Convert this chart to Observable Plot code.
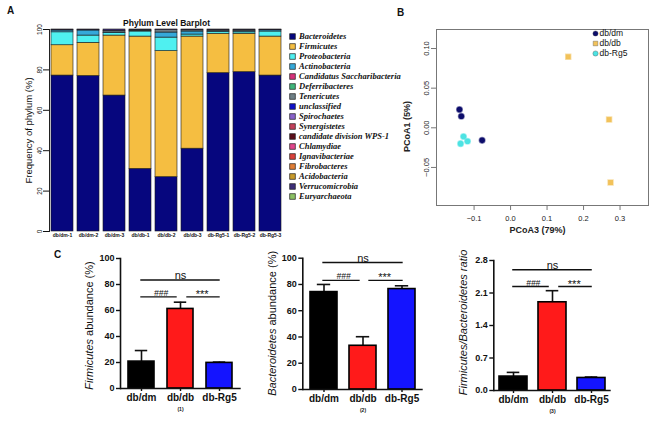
<!DOCTYPE html>
<html><head><meta charset="utf-8">
<script src="https://cdn.jsdelivr.net/npm/d3@7"></script>
<script src="https://cdn.jsdelivr.net/npm/@observablehq/plot@0.6"></script>
<style>
body{margin:0;background:#fff;}
#fig{position:relative;width:659px;height:421px;overflow:hidden;font-family:"Liberation Sans",Arial,sans-serif;background:#fff;}
.letter{position:absolute;font-weight:bold;font-size:10px;line-height:10px;color:#111;}
</style></head><body><div id="fig">
<div class="letter" style="left:7px;top:6px">A</div>
<div class="letter" style="left:397px;top:8px">B</div>
<div class="letter" style="left:54px;top:250px">C</div>
</div>
<script>
// ---------- Panel A data ----------
const samples = ["db/dm-1","db/dm-2","db/dm-3","db/db-1","db/db-2","db/db-3","db-Rg5-1","db-Rg5-2","db-Rg5-3"];
const phyla = ["Bacteroidetes","Firmicutes","Proteobacteria","Actinobacteria","Candidatus Saccharibacteria","Deferribacteres","Tenericutes","unclassified","Spirochaetes","Synergistetes","candidate division WPS-1","Chlamydiae","Ignavibacteriae","Fibrobacteres","Acidobacteria","Verrucomicrobia","Euryarchaeota"];
const phylumColors = ["#06067e","#f5be41","#4ff0f0","#35a9d9","#d6327a","#3fb57a","#6f7f86","#1010c8","#8a62c9","#c2415a","#5c0f1a","#e0468a","#d9413a","#e07d35","#c89a2a","#3e2f78","#8cc063"];
const bacteroidetes   = [77.2, 77.0, 67.3, 31.0, 26.9, 41.0, 78.4, 78.9, 77.2];
const firmicutes      = [15.0, 16.4, 29.7, 65.5, 62.4, 55.5, 19.5, 19.0, 19.3];
const proteobacteria  = [6.4, 3.6, 1.2, 2.5, 6.7, 1.0, 0.8, 0.7, 2.5];
const actinobacteria  = [0.9, 2.5, 0.3, 0.3, 2.5, 1.5, 0.4, 0.5, 0.6];
const tenericutes     = [0.3, 0.3, 0.8, 0.3, 1.2, 0.6, 0.5, 0.5, 0.2];
const verrucomicrobia = [0.2, 0.2, 0.7, 0.4, 0.3, 0.4, 0.4, 0.4, 0.2];
const yTicksA = [0, 20, 40, 60, 80, 100];

// ---------- Panel B data ----------
const groups = ["db/dm","db/db","db-Rg5"];
const groupColors = ["#0d0d6b","#f2c25a","#4de3e3"];
const groupSymbols = ["circle","square","circle"];
const pcGroup = ["db/dm","db/dm","db/dm","db/db","db/db","db/db","db-Rg5","db-Rg5","db-Rg5"];
const pc3 = [-0.140, -0.135, -0.078, 0.158, 0.270, 0.274, -0.129, -0.118, -0.137];
const pc1 = [0.023, 0.0146, -0.0158, 0.0896, 0.0104, -0.069, -0.011, -0.017, -0.020];
const xTicksB = [-0.1, 0, 0.1, 0.2, 0.3];
const yTicksB = [-0.05, 0, 0.05, 0.1];

// ---------- Panel C data ----------
const groupsC = ["db/dm","db/db","db-Rg5"];
const barColors = ["#000000","#ff1a1a","#1414ff"];
const firmMean = [20.7, 61.2, 19.7];
const firmErr  = [8.5, 5.2, 0.6];
const bactMean = [74.2, 33.3, 76.5];
const bactErr  = [5.8, 6.9, 2.5];
const ratioMean = [0.30, 1.90, 0.27];
const ratioErr  = [0.09, 0.25, 0.02];
const sigLabels = ["ns","###","***"];
const sigFrom = ["db/dm","db/dm","db/db"];
const sigTo   = ["db-Rg5","db/db","db-Rg5"];
const firmSigY  = [83.5, 70.5, 70.5];
const bactSigY  = [96.7, 83.1, 83.1];
const ratioSigY = [2.60, 2.24, 2.24];
const ticksPct = [0, 20, 40, 60, 80, 100];
const ticksRatio = [0, 0.7, 1.4, 2.1, 2.8];

const FONT = "Liberation Sans, Arial, sans-serif";
const fig = document.getElementById("fig");
function place(node, left, top) {
  node.style.position = "absolute";
  node.style.left = left + "px";
  node.style.top = top + "px";
  fig.appendChild(node);
}
function italicize(svg, full, part) {
  d3.select(svg).selectAll("text").filter(function(){ return this.textContent === full; }).each(function(){
    const t = d3.select(this); t.text(null);
    t.append("tspan").attr("font-style","italic").text(part);
    if (full.length > part.length) t.append("tspan").text(full.slice(part.length));
  });
}

// ---------- Panel A ----------
const stackSeries = [["Bacteroidetes", bacteroidetes], ["Firmicutes", firmicutes], ["Proteobacteria", proteobacteria], ["Actinobacteria", actinobacteria], ["Tenericutes", tenericutes], ["Verrucomicrobia", verrucomicrobia]];
const stackData = stackSeries.flatMap(([p, vals]) => vals.map((v, i) => ({sample: samples[i], phylum: p, value: v})));

const plotA = Plot.plot({
  width: 290, height: 245, marginLeft: 49, marginRight: 7, marginTop: 29, marginBottom: 14,
  style: {fontFamily: FONT, background: "transparent", overflow: "visible", color: "#111"},
  x: {domain: samples, paddingInner: 0.154, paddingOuter: 0.077, axis: null},
  y: {domain: [0, 100], axis: null},
  color: {domain: phyla, range: phylumColors},
  marks: [
    Plot.barY(stackData, {x: "sample", y: "value", fill: "phylum", stroke: "#1a1a1a", strokeWidth: 0.6}),
    Plot.frame({anchor: "left", stroke: "#222"}),
    Plot.axisY({ticks: yTicksA, tickSize: 6, tickPadding: 2, tickRotate: -90, fontSize: 6.5, label: null}),
    Plot.axisX({tickSize: 0, tickPadding: 1.5, fontSize: 5, fontWeight: "bold", label: null}),
    Plot.text(["Frequency of phylum (%)"], {frameAnchor: "left", textAnchor: "middle", rotate: -90, dx: -21, fontSize: 9.5}),
    Plot.text(["Phylum Level Barplot"], {frameAnchor: "top", dy: -10, fontSize: 8.5, fontWeight: "bold"})
  ]
});
place(plotA, 0, 0);

const legendA = Plot.plot({
  width: 122, height: 180, marginLeft: 6, marginRight: 0, marginTop: 0, marginBottom: 0,
  style: {background: "transparent", overflow: "visible", color: "#111"},
  y: {type: "point", domain: phyla, range: [7.3, 172], padding: 0, axis: null},
  color: {domain: phyla, range: phylumColors},
  marks: [
    Plot.dot(phyla, {y: d => d, frameAnchor: "left", symbol: "square", r: 3.2, fill: d => d, stroke: "#222", strokeWidth: 0.7}),
    Plot.text(phyla, {y: d => d, text: d => d, frameAnchor: "left", dx: 6.5, textAnchor: "start", fontFamily: "Liberation Serif, Times New Roman, serif", fontStyle: "italic", fontWeight: "bold", fontSize: 8.5})
  ]
});
place(legendA, 286, 26);

// ---------- Panel B ----------
const pcoa = pc3.map((v, i) => ({pc3: v, pc1: pc1[i], group: pcGroup[i]}));
const plotB = Plot.plot({
  width: 279, height: 245, marginLeft: 56, marginRight: 11, marginTop: 29, marginBottom: 40,
  style: {fontFamily: FONT, background: "transparent", overflow: "visible", color: "#222"},
  x: {domain: [-0.203, 0.378], axis: null},
  y: {domain: [-0.098, 0.124], axis: null},
  color: {domain: groups, range: groupColors},
  symbol: {domain: groups, range: groupSymbols},
  marks: [
    Plot.frame({stroke: "#777", strokeWidth: 1}),
    Plot.axisX({ticks: xTicksB, tickFormat: d3.format(".1f"), tickSize: 5, tickPadding: 5, fontSize: 7.5, stroke: "#777", label: null}),
    Plot.axisY({ticks: yTicksB, tickFormat: d3.format(".2f"), tickSize: 5, tickPadding: 3, tickRotate: -90, fontSize: 7.5, stroke: "#777", label: null}),
    Plot.dot(pcoa, {x: "pc3", y: "pc1", fill: "group", symbol: "group", r: 2.8, stroke: "group", strokeOpacity: 0.5}),
    Plot.text(["PCoA3 (79%)"], {frameAnchor: "bottom", dx: -5, dy: 27, fontSize: 9, fontWeight: "bold", fill: "#222"}),
    Plot.text(["PCoA1 (5%)"], {frameAnchor: "left", textAnchor: "middle", rotate: -90, dx: -29, dy: 9, fontSize: 9, fontWeight: "bold", fill: "#222"})
  ]
});
place(plotB, 380, 0);

const legendB = Plot.plot({
  width: 62, height: 32, marginLeft: 5, marginRight: 0, marginTop: 0, marginBottom: 0,
  style: {fontFamily: FONT, background: "transparent", overflow: "visible", color: "#111"},
  y: {type: "point", domain: groups, range: [3, 23], padding: 0, axis: null},
  color: {domain: groups, range: groupColors},
  symbol: {domain: groups, range: groupSymbols},
  marks: [
    Plot.dot(groups, {y: d => d, frameAnchor: "left", symbol: d => d, fill: d => d, r: 2.6, stroke: "#555", strokeWidth: 0.4}),
    Plot.text(groups, {y: d => d, text: d => d, frameAnchor: "left", dx: 4, textAnchor: "start", fontSize: 8.5})
  ]
});
place(legendB, 590, 30);

// ---------- Panel C ----------
function barPanel(o) {
  const data = groupsC.map((g, i) => ({group: g, mean: o.means[i], err: o.errs[i]}));
  const br = sigLabels.map((s, i) => ({label: s, from: sigFrom[i], to: sigTo[i], y: o.levels[i]}));
  const r0 = o.marginLeft, r1 = o.width - o.marginRight;
  const step = (r1 - r0) / (groupsC.length - o.paddingInner + 2 * o.paddingOuter);
  const bw = step * (1 - o.paddingInner);
  const ns = br.filter(d => d.label === "ns");
  const hash = br.filter(d => d.label === "###");
  const star = br.filter(d => d.label === "***");
  const svg = Plot.plot({
    width: o.width, height: o.height, marginLeft: o.marginLeft, marginRight: o.marginRight, marginTop: o.marginTop, marginBottom: o.marginBottom,
    style: {fontFamily: FONT, background: "transparent", overflow: "visible", color: "#111"},
    x: {domain: groupsC, paddingInner: o.paddingInner, paddingOuter: o.paddingOuter, axis: null},
    y: {domain: o.domain, axis: null},
    color: {domain: groupsC, range: barColors},
    marks: [
      Plot.ruleX(data, {x: "group", y1: "mean", y2: d => d.mean + d.err, strokeWidth: 1.6}),
      Plot.tickY(data, {x: "group", y: d => d.mean + d.err, insetLeft: bw / 2 - 6.5, insetRight: bw / 2 - 6.5, strokeWidth: 1.6}),
      Plot.barY(data, {x: "group", y: "mean", fill: "group", stroke: "#000", strokeWidth: 1.6}),
      Plot.ruleY([o.domain[0]], {strokeWidth: 1.6}),
      Plot.frame({anchor: "left", strokeWidth: 1.6}),
      Plot.axisY({ticks: o.ticks, tickFormat: o.tickFormat, tickSize: 4, tickPadding: 2, fontSize: 9, fontWeight: "bold", strokeWidth: 1.4, label: null}),
      Plot.axisX({tickSize: 3, tickPadding: 2, fontSize: 10, fontWeight: "bold", strokeWidth: 1.4, label: null}),
      Plot.ruleY(ns, {y: "y", x1: "from", x2: "to", insetLeft: bw / 2 - 1, insetRight: bw / 2 - 1, strokeWidth: 1.4}),
      Plot.ruleY(hash, {y: "y", x1: "from", x2: "to", insetLeft: bw / 2 - 1, insetRight: bw / 2 + 3, strokeWidth: 1.4}),
      Plot.ruleY(star, {y: "y", x1: "from", x2: "to", insetLeft: bw / 2 + 6, insetRight: bw / 2 - 1, strokeWidth: 1.4}),
      Plot.text(ns, {x: () => groupsC[1], y: "y", text: "label", lineAnchor: "bottom", dy: -1, fontSize: 11}),
      Plot.text(hash, {x: "from", y: "y", text: "label", lineAnchor: "bottom", dx: step / 2, dy: -1, fontSize: 8.5, fontStyle: "italic"}),
      Plot.text(star, {x: "from", y: "y", text: "label", lineAnchor: "bottom", dx: step / 2 + 2, dy: 1, fontSize: 11}),
      Plot.text([o.num], {x: () => groupsC[1], frameAnchor: "bottom", dy: 22, fontSize: 5, fontWeight: "bold"}),
      Plot.text([o.ylabel], {frameAnchor: "left", textAnchor: "middle", rotate: -90, dx: o.labelDx, dy: o.labelDy, fontSize: 11})
    ]
  });
  italicize(svg, o.ylabel, o.italicPart);
  place(svg, o.left, o.top);
}

barPanel({left: 60, top: 245, width: 180, height: 176, marginLeft: 60, marginRight: -0.7, marginTop: 13, marginBottom: 33,
  paddingInner: 0.325, paddingOuter: 0.195, domain: [0, 100], ticks: ticksPct, tickFormat: d3.format("d"),
  means: firmMean, errs: firmErr, levels: firmSigY, ylabel: "Firmicutes abundance (%)", italicPart: "Firmicutes", num: "(1)", labelDx: -30.7, labelDy: 2});
barPanel({left: 240, top: 245, width: 190, height: 176, marginLeft: 62.3, marginRight: 7.3, marginTop: 12.7, marginBottom: 32,
  paddingInner: 0.32, paddingOuter: 0.196, domain: [0, 100], ticks: ticksPct, tickFormat: d3.format("d"),
  means: bactMean, errs: bactErr, levels: bactSigY, ylabel: "Bacteroidetes abundance (%)", italicPart: "Bacteroidetes", num: "(2)", labelDx: -30.6, labelDy: -0.5});
barPanel({left: 440, top: 245, width: 180, height: 176, marginLeft: 53.3, marginRight: 9.3, marginTop: 15, marginBottom: 31,
  paddingInner: 0.28, paddingOuter: 0.126, domain: [0, 2.8], ticks: ticksRatio, tickFormat: d3.format(".1f"),
  means: ratioMean, errs: ratioErr, levels: ratioSigY, ylabel: "Firmicutes/Bacteroidetes ratio", italicPart: "Firmicutes/Bacteroidetes ratio", num: "(3)", labelDx: -30, labelDy: -3});
</script></body></html>
